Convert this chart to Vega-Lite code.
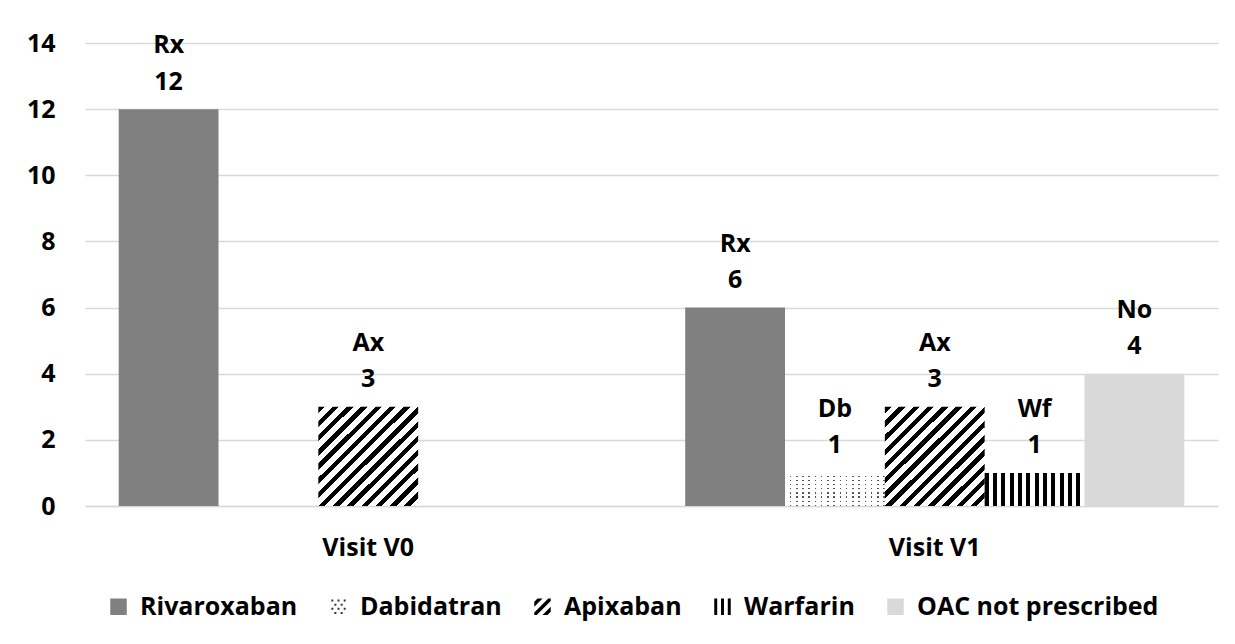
{
  "$schema": "https://vega.github.io/schema/vega-lite/v6.json",
  "width": 1133,
  "height": 463,
  "autosize": "none",
  "padding": {"left": 85, "top": 43, "right": 17, "bottom": 138},
  "background": "white",
  "config": {
    "view": {"stroke": null},
    "font": "Open Sans",
    "axis": {"labelFont": "Open Sans", "labelFontWeight": "bold", "labelFontSize": 25, "labelColor": "#000000"},
    "legend": {"labelFont": "Open Sans", "labelFontWeight": "bold", "labelFontSize": 25, "labelColor": "#000000"}
  },
  "data": {
    "values": [
      {"visit": "Visit V0", "drug": "Rivaroxaban", "abbr": "Rx", "value": 12},
      {"visit": "Visit V0", "drug": "Dabidatran", "abbr": "Db", "value": 0},
      {"visit": "Visit V0", "drug": "Apixaban", "abbr": "Ax", "value": 3},
      {"visit": "Visit V0", "drug": "Warfarin", "abbr": "Wf", "value": 0},
      {"visit": "Visit V0", "drug": "OAC not prescribed", "abbr": "No", "value": 0},
      {"visit": "Visit V1", "drug": "Rivaroxaban", "abbr": "Rx", "value": 6},
      {"visit": "Visit V1", "drug": "Dabidatran", "abbr": "Db", "value": 1},
      {"visit": "Visit V1", "drug": "Apixaban", "abbr": "Ax", "value": 3},
      {"visit": "Visit V1", "drug": "Warfarin", "abbr": "Wf", "value": 1},
      {"visit": "Visit V1", "drug": "OAC not prescribed", "abbr": "No", "value": 4}
    ]
  },
  "encoding": {
    "x": {
      "field": "visit", "type": "nominal", "title": null,
      "scale": {"paddingInner": 0.119, "paddingOuter": 0.0595},
      "axis": {"labelAngle": 0, "ticks": false, "domainColor": "#d9d9d9", "domainWidth": 1.5, "labelPadding": 29}
    },
    "xOffset": {
      "field": "drug", "type": "nominal",
      "scale": {"domain": ["Rivaroxaban", "Dabidatran", "Apixaban", "Warfarin", "OAC not prescribed"], "paddingInner": 0, "paddingOuter": 0}
    },
    "y": {
      "field": "value", "type": "quantitative", "title": null,
      "scale": {"domain": [0, 14], "nice": false},
      "axis": {"values": [0, 2, 4, 6, 8, 10, 12, 14], "ticks": false, "domain": false, "gridColor": "#d9d9d9", "gridWidth": 1.5, "labelPadding": 30}
    }
  },
  "layer": [
    {
      "mark": {"type": "bar"},
      "encoding": {
        "fill": {
          "condition": [
            {"test": "datum.drug === 'Rivaroxaban'", "value": "#808080"},
            {"test": "datum.drug === 'Dabidatran'", "value": {"gradient": "linear", "x1": 0, "y1": 0, "x2": 0, "y2": 1, "stops": [
                {"offset": 0, "color": "#ffffff"}, {"offset": 0.085, "color": "#ffffff"}, {"offset": 0.085, "color": "#555555"}, {"offset": 0.125, "color": "#555555"},
                {"offset": 0.125, "color": "#ffffff"}, {"offset": 0.21, "color": "#ffffff"}, {"offset": 0.21, "color": "#555555"}, {"offset": 0.25, "color": "#555555"},
                {"offset": 0.25, "color": "#ffffff"}, {"offset": 0.335, "color": "#ffffff"}, {"offset": 0.335, "color": "#555555"}, {"offset": 0.375, "color": "#555555"},
                {"offset": 0.375, "color": "#ffffff"}, {"offset": 0.46, "color": "#ffffff"}, {"offset": 0.46, "color": "#555555"}, {"offset": 0.5, "color": "#555555"},
                {"offset": 0.5, "color": "#ffffff"}, {"offset": 0.585, "color": "#ffffff"}, {"offset": 0.585, "color": "#555555"}, {"offset": 0.625, "color": "#555555"},
                {"offset": 0.625, "color": "#ffffff"}, {"offset": 0.71, "color": "#ffffff"}, {"offset": 0.71, "color": "#555555"}, {"offset": 0.75, "color": "#555555"},
                {"offset": 0.75, "color": "#ffffff"}, {"offset": 0.835, "color": "#ffffff"}, {"offset": 0.835, "color": "#555555"}, {"offset": 0.875, "color": "#555555"},
                {"offset": 0.875, "color": "#ffffff"}, {"offset": 0.96, "color": "#ffffff"}, {"offset": 0.96, "color": "#555555"}, {"offset": 1, "color": "#555555"}
              ]}},
            {"test": "datum.drug === 'Apixaban'", "value": {"gradient": "linear", "x1": 0, "y1": 0, "x2": 1, "y2": 1, "stops": [
                {"offset": 0, "color": "#000000"}, {"offset": 0.0321, "color": "#000000"}, {"offset": 0.0321, "color": "#ffffff"}, {"offset": 0.0714, "color": "#ffffff"},
                {"offset": 0.0714, "color": "#000000"}, {"offset": 0.1036, "color": "#000000"}, {"offset": 0.1036, "color": "#ffffff"}, {"offset": 0.1429, "color": "#ffffff"},
                {"offset": 0.1429, "color": "#000000"}, {"offset": 0.175, "color": "#000000"}, {"offset": 0.175, "color": "#ffffff"}, {"offset": 0.2143, "color": "#ffffff"},
                {"offset": 0.2143, "color": "#000000"}, {"offset": 0.2464, "color": "#000000"}, {"offset": 0.2464, "color": "#ffffff"}, {"offset": 0.2857, "color": "#ffffff"},
                {"offset": 0.2857, "color": "#000000"}, {"offset": 0.3179, "color": "#000000"}, {"offset": 0.3179, "color": "#ffffff"}, {"offset": 0.3571, "color": "#ffffff"},
                {"offset": 0.3571, "color": "#000000"}, {"offset": 0.3893, "color": "#000000"}, {"offset": 0.3893, "color": "#ffffff"}, {"offset": 0.4286, "color": "#ffffff"},
                {"offset": 0.4286, "color": "#000000"}, {"offset": 0.4607, "color": "#000000"}, {"offset": 0.4607, "color": "#ffffff"}, {"offset": 0.5, "color": "#ffffff"},
                {"offset": 0.5, "color": "#000000"}, {"offset": 0.5321, "color": "#000000"}, {"offset": 0.5321, "color": "#ffffff"}, {"offset": 0.5714, "color": "#ffffff"},
                {"offset": 0.5714, "color": "#000000"}, {"offset": 0.6036, "color": "#000000"}, {"offset": 0.6036, "color": "#ffffff"}, {"offset": 0.6429, "color": "#ffffff"},
                {"offset": 0.6429, "color": "#000000"}, {"offset": 0.675, "color": "#000000"}, {"offset": 0.675, "color": "#ffffff"}, {"offset": 0.7143, "color": "#ffffff"},
                {"offset": 0.7143, "color": "#000000"}, {"offset": 0.7464, "color": "#000000"}, {"offset": 0.7464, "color": "#ffffff"}, {"offset": 0.7857, "color": "#ffffff"},
                {"offset": 0.7857, "color": "#000000"}, {"offset": 0.8179, "color": "#000000"}, {"offset": 0.8179, "color": "#ffffff"}, {"offset": 0.8571, "color": "#ffffff"},
                {"offset": 0.8571, "color": "#000000"}, {"offset": 0.8893, "color": "#000000"}, {"offset": 0.8893, "color": "#ffffff"}, {"offset": 0.9286, "color": "#ffffff"},
                {"offset": 0.9286, "color": "#000000"}, {"offset": 0.9607, "color": "#000000"}, {"offset": 0.9607, "color": "#ffffff"}, {"offset": 1, "color": "#ffffff"}
              ]}},
            {"test": "datum.drug === 'Warfarin'", "value": {"gradient": "linear", "x1": 0, "y1": 0, "x2": 1, "y2": 0, "stops": [
                {"offset": 0, "color": "#000000"}, {"offset": 0.0417, "color": "#000000"}, {"offset": 0.0417, "color": "#ffffff"}, {"offset": 0.0833, "color": "#ffffff"},
                {"offset": 0.0833, "color": "#000000"}, {"offset": 0.125, "color": "#000000"}, {"offset": 0.125, "color": "#ffffff"}, {"offset": 0.1667, "color": "#ffffff"},
                {"offset": 0.1667, "color": "#000000"}, {"offset": 0.2083, "color": "#000000"}, {"offset": 0.2083, "color": "#ffffff"}, {"offset": 0.25, "color": "#ffffff"},
                {"offset": 0.25, "color": "#000000"}, {"offset": 0.2917, "color": "#000000"}, {"offset": 0.2917, "color": "#ffffff"}, {"offset": 0.3333, "color": "#ffffff"},
                {"offset": 0.3333, "color": "#000000"}, {"offset": 0.375, "color": "#000000"}, {"offset": 0.375, "color": "#ffffff"}, {"offset": 0.4167, "color": "#ffffff"},
                {"offset": 0.4167, "color": "#000000"}, {"offset": 0.4583, "color": "#000000"}, {"offset": 0.4583, "color": "#ffffff"}, {"offset": 0.5, "color": "#ffffff"},
                {"offset": 0.5, "color": "#000000"}, {"offset": 0.5417, "color": "#000000"}, {"offset": 0.5417, "color": "#ffffff"}, {"offset": 0.5833, "color": "#ffffff"},
                {"offset": 0.5833, "color": "#000000"}, {"offset": 0.625, "color": "#000000"}, {"offset": 0.625, "color": "#ffffff"}, {"offset": 0.6667, "color": "#ffffff"},
                {"offset": 0.6667, "color": "#000000"}, {"offset": 0.7083, "color": "#000000"}, {"offset": 0.7083, "color": "#ffffff"}, {"offset": 0.75, "color": "#ffffff"},
                {"offset": 0.75, "color": "#000000"}, {"offset": 0.7917, "color": "#000000"}, {"offset": 0.7917, "color": "#ffffff"}, {"offset": 0.8333, "color": "#ffffff"},
                {"offset": 0.8333, "color": "#000000"}, {"offset": 0.875, "color": "#000000"}, {"offset": 0.875, "color": "#ffffff"}, {"offset": 0.9167, "color": "#ffffff"},
                {"offset": 0.9167, "color": "#000000"}, {"offset": 0.9583, "color": "#000000"}, {"offset": 0.9583, "color": "#ffffff"}, {"offset": 1, "color": "#ffffff"}
              ]}}
          ],
          "value": "#d9d9d9"
        }
      }
    },
    {
      "transform": [{"filter": "datum.drug === 'Dabidatran'"}],
      "mark": {"type": "bar"},
      "encoding": {
        "fill": {"value": {"gradient": "linear", "x1": 0, "y1": 0, "x2": 1, "y2": 0, "stops": [
          {"offset": 0, "color": "#ffffff"}, {"offset": 0.047, "color": "#ffffff"}, {"offset": 0.047, "color": "rgba(255,255,255,0)"}, {"offset": 0.0625, "color": "rgba(255,255,255,0)"},
          {"offset": 0.0625, "color": "#ffffff"}, {"offset": 0.1095, "color": "#ffffff"}, {"offset": 0.1095, "color": "rgba(255,255,255,0)"}, {"offset": 0.125, "color": "rgba(255,255,255,0)"},
          {"offset": 0.125, "color": "#ffffff"}, {"offset": 0.172, "color": "#ffffff"}, {"offset": 0.172, "color": "rgba(255,255,255,0)"}, {"offset": 0.1875, "color": "rgba(255,255,255,0)"},
          {"offset": 0.1875, "color": "#ffffff"}, {"offset": 0.2345, "color": "#ffffff"}, {"offset": 0.2345, "color": "rgba(255,255,255,0)"}, {"offset": 0.25, "color": "rgba(255,255,255,0)"},
          {"offset": 0.25, "color": "#ffffff"}, {"offset": 0.297, "color": "#ffffff"}, {"offset": 0.297, "color": "rgba(255,255,255,0)"}, {"offset": 0.3125, "color": "rgba(255,255,255,0)"},
          {"offset": 0.3125, "color": "#ffffff"}, {"offset": 0.3595, "color": "#ffffff"}, {"offset": 0.3595, "color": "rgba(255,255,255,0)"}, {"offset": 0.375, "color": "rgba(255,255,255,0)"},
          {"offset": 0.375, "color": "#ffffff"}, {"offset": 0.422, "color": "#ffffff"}, {"offset": 0.422, "color": "rgba(255,255,255,0)"}, {"offset": 0.4375, "color": "rgba(255,255,255,0)"},
          {"offset": 0.4375, "color": "#ffffff"}, {"offset": 0.4845, "color": "#ffffff"}, {"offset": 0.4845, "color": "rgba(255,255,255,0)"}, {"offset": 0.5, "color": "rgba(255,255,255,0)"},
          {"offset": 0.5, "color": "#ffffff"}, {"offset": 0.547, "color": "#ffffff"}, {"offset": 0.547, "color": "rgba(255,255,255,0)"}, {"offset": 0.5625, "color": "rgba(255,255,255,0)"},
          {"offset": 0.5625, "color": "#ffffff"}, {"offset": 0.6095, "color": "#ffffff"}, {"offset": 0.6095, "color": "rgba(255,255,255,0)"}, {"offset": 0.625, "color": "rgba(255,255,255,0)"},
          {"offset": 0.625, "color": "#ffffff"}, {"offset": 0.672, "color": "#ffffff"}, {"offset": 0.672, "color": "rgba(255,255,255,0)"}, {"offset": 0.6875, "color": "rgba(255,255,255,0)"},
          {"offset": 0.6875, "color": "#ffffff"}, {"offset": 0.7345, "color": "#ffffff"}, {"offset": 0.7345, "color": "rgba(255,255,255,0)"}, {"offset": 0.75, "color": "rgba(255,255,255,0)"},
          {"offset": 0.75, "color": "#ffffff"}, {"offset": 0.797, "color": "#ffffff"}, {"offset": 0.797, "color": "rgba(255,255,255,0)"}, {"offset": 0.8125, "color": "rgba(255,255,255,0)"},
          {"offset": 0.8125, "color": "#ffffff"}, {"offset": 0.8595, "color": "#ffffff"}, {"offset": 0.8595, "color": "rgba(255,255,255,0)"}, {"offset": 0.875, "color": "rgba(255,255,255,0)"},
          {"offset": 0.875, "color": "#ffffff"}, {"offset": 0.922, "color": "#ffffff"}, {"offset": 0.922, "color": "rgba(255,255,255,0)"}, {"offset": 0.9375, "color": "rgba(255,255,255,0)"},
          {"offset": 0.9375, "color": "#ffffff"}, {"offset": 0.9845, "color": "#ffffff"}, {"offset": 0.9845, "color": "rgba(255,255,255,0)"}, {"offset": 1, "color": "rgba(255,255,255,0)"}
        ]}}
      }
    },
    {
      "mark": {"type": "point", "filled": true, "opacity": 0},
      "encoding": {
        "color": {
          "field": "drug", "type": "nominal",
          "scale": {
            "domain": ["Rivaroxaban", "Dabidatran", "Apixaban", "Warfarin", "OAC not prescribed"],
            "range": ["#808080", "#333333", "#000000", "#000000", "#d9d9d9"]
          },
          "legend": {
            "title": null, "orient": "none", "direction": "horizontal",
            "legendX": 21, "legendY": 551, "padding": 0,
            "symbolSize": 272, "symbolStrokeWidth": 0, "symbolOpacity": 1,
            "labelOffset": 9, "columnPadding": 28, "labelLimit": 400
          }
        },
        "shape": {
          "field": "drug", "type": "nominal",
          "scale": {
            "domain": ["Rivaroxaban", "Dabidatran", "Apixaban", "Warfarin", "OAC not prescribed"],
            "range": [
              "square",
              "M-0.87,-0.87h0.24v0.24h-0.24Z M-0.12,-0.87h0.24v0.24h-0.24Z M0.63,-0.87h0.24v0.24h-0.24Z M-0.5,-0.37h0.24v0.24h-0.24Z M0.26,-0.37h0.24v0.24h-0.24Z M-0.87,0.13h0.24v0.24h-0.24Z M-0.12,0.13h0.24v0.24h-0.24Z M0.63,0.13h0.24v0.24h-0.24Z M-0.5,0.63h0.24v0.24h-0.24Z M0.26,0.63h0.24v0.24h-0.24Z",
              "M-0.6,-1L0,-1L-1,0L-1,-0.6Z M0.7,-1L1,-1L1,-0.7L-0.7,1L-1,1L-1,0.7Z M1,0L1,0.6L0.6,1L0,1Z",
              "M-1,-1H-0.64V1H-1Z M-0.18,-1H0.18V1H-0.18Z M0.64,-1H1V1H0.64Z",
              "square"
            ]
          },
          "legend": {
            "title": null, "orient": "none", "direction": "horizontal",
            "legendX": 21, "legendY": 551, "padding": 0,
            "symbolSize": 272, "symbolStrokeWidth": 0, "symbolOpacity": 1,
            "labelOffset": 9, "columnPadding": 28, "labelLimit": 400
          }
        }
      }
    },
    {
      "transform": [{"filter": "datum.value > 0"}],
      "mark": {"type": "text", "fontWeight": "bold", "fontSize": 25, "baseline": "middle", "dy": -27.5, "color": "#000000"},
      "encoding": {"text": {"field": "value", "type": "quantitative"}}
    },
    {
      "transform": [{"filter": "datum.value > 0"}],
      "mark": {"type": "text", "fontWeight": "bold", "fontSize": 25, "baseline": "middle", "dy": -64, "color": "#000000"},
      "encoding": {"text": {"field": "abbr", "type": "nominal"}}
    }
  ]
}
